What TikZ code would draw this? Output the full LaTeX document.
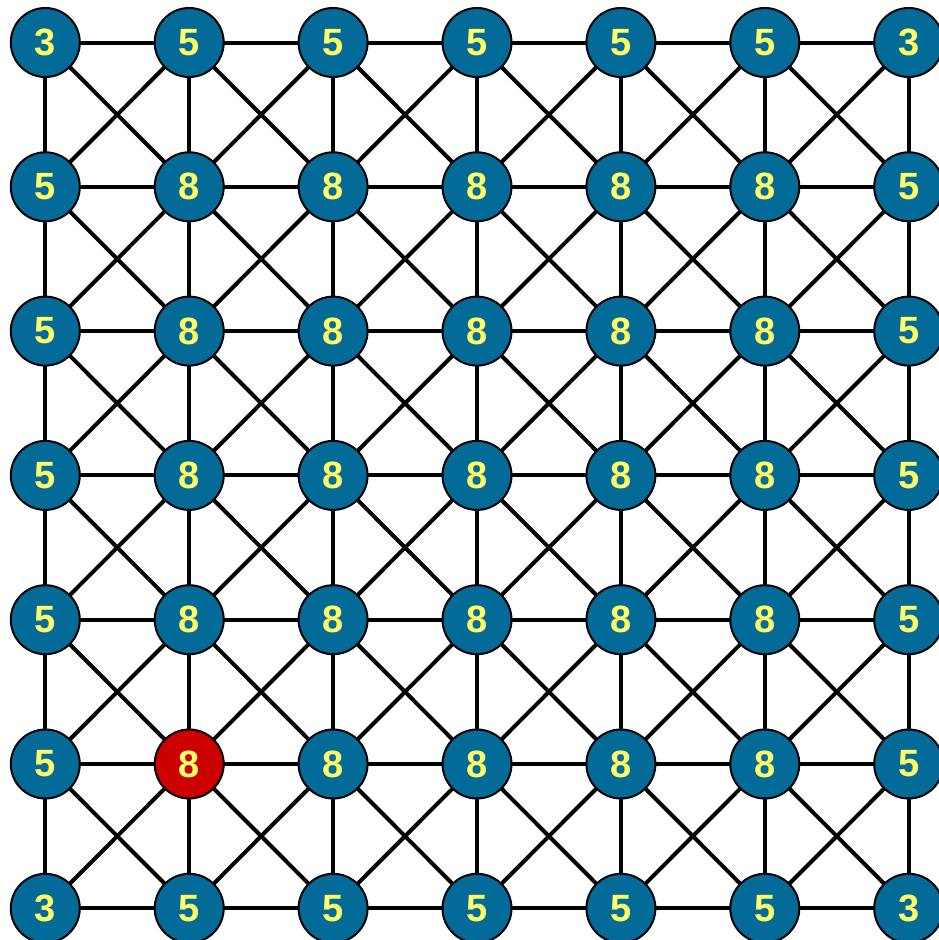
\documentclass[tikz,border=0pt]{standalone}
\usepackage{fontspec}
\setmainfont{Liberation Sans}
\usetikzlibrary{backgrounds}
\definecolor{nodeblue}{RGB}{4,107,153}
\definecolor{nodered}{RGB}{204,0,0}
\definecolor{digit}{RGB}{255,255,102}
\tikzset{
  cell/.style={circle, draw=black, line width=2pt, fill=nodeblue, minimum size=69pt, inner sep=0pt,
    text=digit, font=\fontsize{38}{38}\selectfont\bfseries},
  hot/.style={cell, fill=nodered},
  link/.style={line width=4pt, black}
}
\begin{document}
\begin{tikzpicture}[x=1pt,y=1pt]
\useasboundingbox (0,0) rectangle (939,-940);
\foreach \i in {0,...,6}{
  \foreach \j in {0,...,6}{
    \pgfmathtruncatemacro{\edgex}{(\i==0 || \i==6) ? 1 : 0}
    \pgfmathtruncatemacro{\edgey}{(\j==0 || \j==6) ? 1 : 0}
    \pgfmathtruncatemacro{\val}{(\edgex+\edgey==2) ? 3 : ((\edgex+\edgey==1) ? 5 : 8)}
    \pgfmathsetmacro{\px}{45.3+143.9*\i}
    \pgfmathsetmacro{\py}{-42.5-144.3*\j}
    \ifnum\i=1 \ifnum\j=5
      \node[hot] (n-\i-\j) at (\px,\py) {\raisebox{-3pt}{\val}};
    \else
      \node[cell] (n-\i-\j) at (\px,\py) {\raisebox{-3pt}{\val}};
    \fi\else
      \node[cell] (n-\i-\j) at (\px,\py) {\raisebox{-3pt}{\val}};
    \fi
  }
}
\begin{pgfonlayer}{background}
\foreach \i in {0,...,5}{
  \pgfmathtruncatemacro{\ii}{\i+1}
  \foreach \j in {0,...,6}{
    \draw[link] (n-\i-\j.center) -- (n-\ii-\j.center);
    \draw[link] (n-\j-\i.center) -- (n-\j-\ii.center);
  }
  \foreach \j in {0,...,5}{
    \pgfmathtruncatemacro{\jj}{\j+1}
    \draw[link] (n-\i-\j.center) -- (n-\ii-\jj.center);
    \draw[link] (n-\ii-\j.center) -- (n-\i-\jj.center);
  }
}
\end{pgfonlayer}
\end{tikzpicture}
\end{document}
